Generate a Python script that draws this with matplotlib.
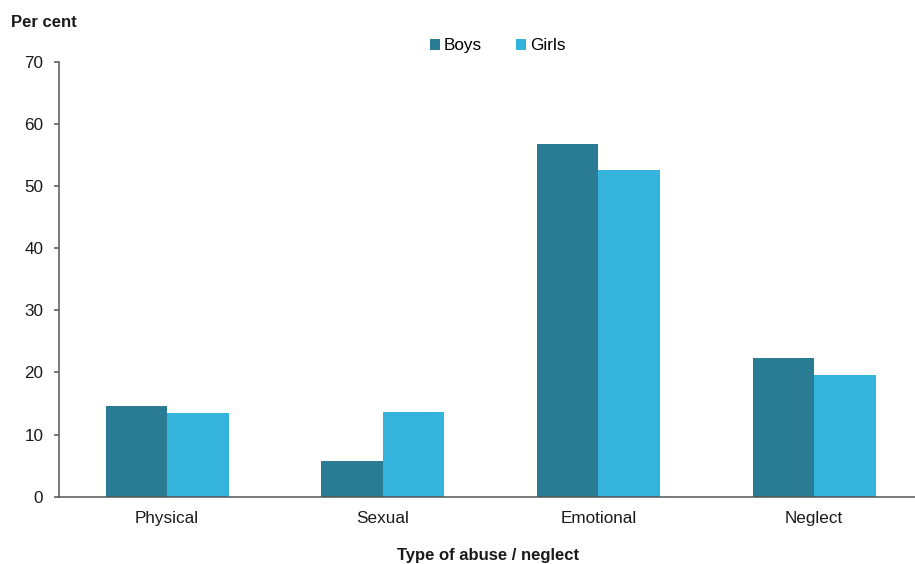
import numpy as np
import matplotlib
matplotlib.use("Agg")
import matplotlib.pyplot as plt

plt.rcParams['font.family'] = ['Liberation Sans', 'DejaVu Sans']

# data
categories = ["Physical", "Sexual", "Emotional", "Neglect"]
boys = [14.6, 5.7, 56.7, 22.4]
girls = [13.4, 13.6, 52.6, 19.6]
yticks = [0, 10, 20, 30, 40, 50, 60, 70]

boys_col = "#2a7b94"
girls_col = "#34b3dc"

fig = plt.figure(figsize=(9.15, 5.64), dpi=100)
ax = fig.add_axes([0.0648, 0.1193, 0.9352, 0.7713])

x = np.arange(len(categories))
w = 0.285
ax.bar(x - w / 2, boys, w, color=boys_col, label="Boys")
ax.bar(x + w / 2, girls, w, color=girls_col, label="Girls")

ax.set_xlim(-0.5, 3.468)
ax.set_ylim(0, 70)
ax.set_yticks(yticks)
ax.set_xticks(x)
ax.set_xticklabels(categories)

for s in ["top", "right"]:
    ax.spines[s].set_visible(False)
for s in ["left", "bottom"]:
    ax.spines[s].set_color("#555555")
    ax.spines[s].set_linewidth(1.1)

ax.tick_params(axis="y", length=3.5, width=1.1, color="#555555", pad=8,
               labelsize=12.3, labelcolor="#1a1a1a")
ax.tick_params(axis="x", length=0, pad=10.5, labelsize=12.3, labelcolor="#1a1a1a")

fig.text(0.012, 0.952, "Per cent", fontsize=12, fontweight="bold",
         va="baseline", ha="left", color="#1a1a1a")
# in the original this label is partly cut off at the bottom edge
fig.text(0.5335, 0.002, "Type of abuse / neglect", fontsize=12,
         fontweight="bold", va="bottom", ha="center", color="#1a1a1a")

ax.legend(loc="center", bbox_to_anchor=(0.544, 0.919),
          bbox_transform=fig.transFigure, ncol=2, frameon=False,
          fontsize=12.3, handlelength=0.6, handleheight=0.6,
          handletextpad=0.2, columnspacing=2.0)

fig.savefig("out.png", dpi=100)
